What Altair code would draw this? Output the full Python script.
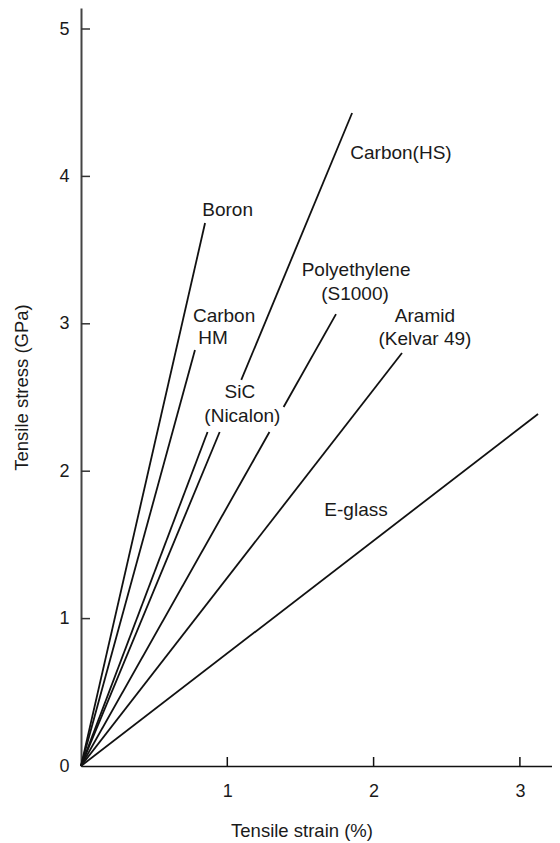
import altair as alt
import pandas as pd

# ---- data ----
materials = ["Boron", "Carbon HM", "Carbon (HS)", "SiC (Nicalon)",
             "Polyethylene (S1000)", "Aramid (Kelvar 49)", "E-glass"]
fail_strain = [0.848, 0.779, 1.853, 0.865, 1.743, 2.194, 3.124]   # %
fail_stress = [3.684, 2.822, 4.430, 2.266, 3.066, 2.802, 2.388]   # GPa

# places where a line is interrupted by a label (stress range of the gap)
gap_material = ["Carbon (HS)", "Polyethylene (S1000)"]
gap_from = [2.266, 2.266]
gap_to = [2.619, 2.436]

label_text = ["Boron", "Carbon", "HM", "Carbon(HS)", "SiC", "(Nicalon)",
              "Polyethylene", "(S1000)", "Aramid", "(Kelvar 49)", "E-glass"]
label_strain = [1.002, 0.978, 0.902, 2.187, 1.086, 1.103,
                1.880, 1.873, 2.351, 2.351, 1.880]
label_stress = [3.772, 3.050, 2.907, 4.159, 2.537, 2.374,
                3.362, 3.199, 3.056, 2.897, 1.737]

x_tick_values = [1, 2, 3]
y_tick_values = [0, 1, 2, 3, 4, 5]

# ---- build tables ----
rows = []
for m, es, ss in zip(materials, fail_strain, fail_stress):
    k = es / ss
    cuts = [(f, t) for gm, f, t in zip(gap_material, gap_from, gap_to) if gm == m]
    start = 0.0
    for f, t in cuts:
        rows.append(dict(material=m, x0=start * k, y0=start, x1=f * k, y1=f))
        start = t
    rows.append(dict(material=m, x0=start * k, y0=start, x1=es, y1=ss))
seg_df = pd.DataFrame(rows)

lab_df = pd.DataFrame(dict(label=label_text, x0=label_strain, y0=label_stress))
xt_df = pd.DataFrame(dict(x0=x_tick_values))
yt_df = pd.DataFrame(dict(y0=y_tick_values[1:]))

W, H = 471, 758
xs = alt.Scale(domain=[0, W / 146.3], nice=False, zero=False)
ys = alt.Scale(domain=[0, H / 147.4], nice=False, zero=False)

FONT = "Liberation Sans"
INK = "#1a1a1a"

xaxis = alt.Axis(values=x_tick_values, title="Tensile strain (%)", ticks=False,
                 grid=False, labelPadding=16, labelFontSize=18, labelFont=FONT,
                 labelColor=INK, labelFlush=False, titleFont=FONT,
                 titleFontSize=18.5, titleFontWeight="normal", titleColor=INK,
                 titleX=220.5, titleY=55, titleBaseline="top",
                 domainColor="#111", domainWidth=1.6)
yaxis = alt.Axis(values=y_tick_values, title="Tensile stress (GPa)", ticks=False,
                 grid=False, labelPadding=12, labelFontSize=18, labelFont=FONT,
                 labelColor=INK, labelFlush=False, titleFont=FONT,
                 titleFontSize=18.5, titleFontWeight="normal", titleColor=INK,
                 titleX=-50, domainColor="#444", domainWidth=2)

X = lambda: alt.X("x0:Q", scale=xs, axis=xaxis)
Y = lambda: alt.Y("y0:Q", scale=ys, axis=yaxis)

lines = alt.Chart(seg_df).mark_rule(color="#111", strokeWidth=1.8).encode(
    x=X(), y=Y(), x2="x1:Q", y2="y1:Q")

labels = alt.Chart(lab_df).mark_text(font=FONT, fontSize=19, color=INK,
                                      align="center", baseline="middle").encode(
    x=X(), y=Y(), text="label:N")

xticks = alt.Chart(xt_df).mark_rule(color="#111", strokeWidth=1.5).encode(
    x=X(), y=alt.value(H), y2=alt.value(H - 9))
yticks = alt.Chart(yt_df).mark_rule(color="#333", strokeWidth=1.5).encode(
    y=Y(), x=alt.value(0), x2=alt.value(9))

chart = alt.layer(lines, xticks, yticks, labels).properties(
    width=W, height=H,
    autosize=alt.AutoSizeParams(type="none"),
    padding={"left": 73, "top": 0, "right": 0, "bottom": 75},
    background="white",
).configure_view(stroke=None)

chart.save("out.html", embed_options={"renderer": "svg", "actions": False})
